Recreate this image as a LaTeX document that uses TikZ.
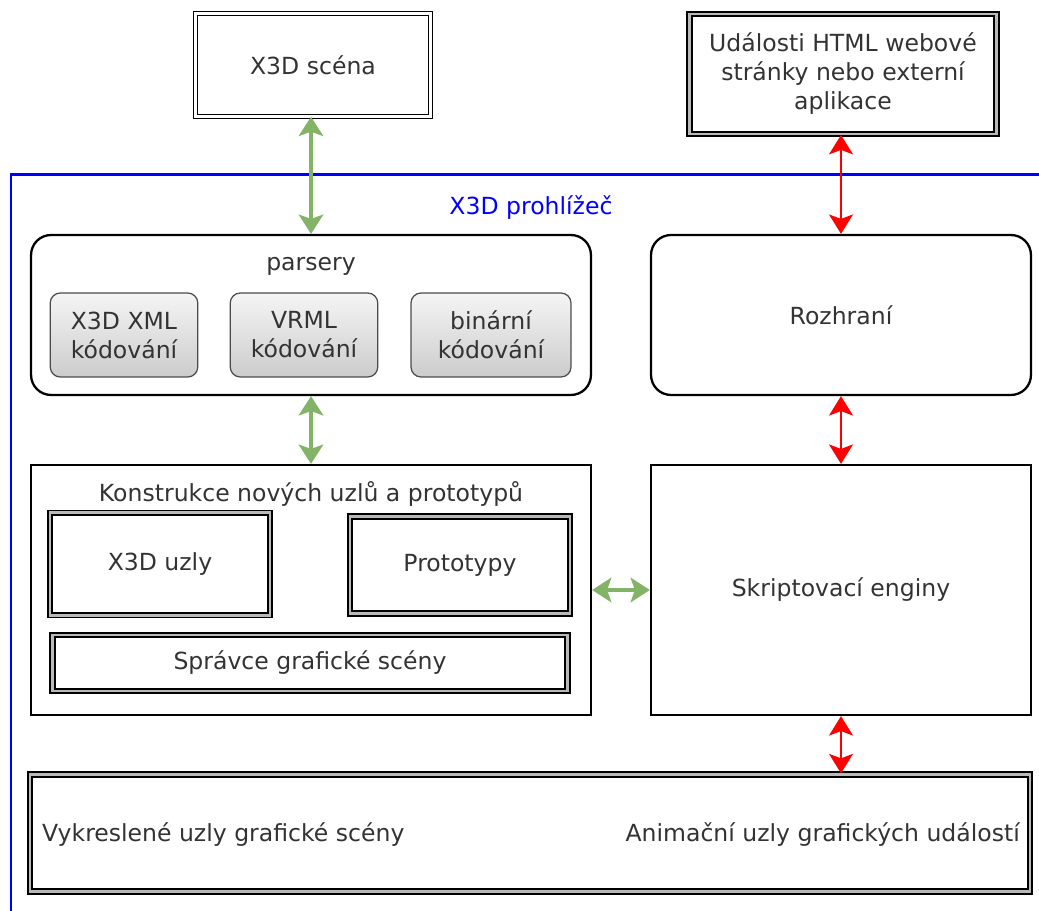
\documentclass[tikz,border=0pt]{standalone}
\usepackage{fontspec}
\setmainfont{DejaVu Sans}
\usetikzlibrary{arrows.meta}
\definecolor{zelena}{HTML}{82B366}
\definecolor{modra}{HTML}{0000FF}

\begin{document}
\begin{tikzpicture}[x=0.02cm, y=-0.02cm,
    every node/.style={font=\fontsize{13.4}{16.5}\selectfont, text=black!80, align=center},
    tenky/.style={draw=black, line width=0.6pt, double=white, double distance=1.5pt},
    tlusty/.style={draw=black, line width=1.1pt, double=gray!55, double distance=1.5pt},
    oblyk/.style={draw=black, line width=1.3pt, rounded corners=0.4cm, fill=white},
    kodovani/.style={draw=gray!60!black, line width=0.7pt, rounded corners=0.2cm, top color=gray!8, bottom color=gray!40},
    hranaty/.style={draw=black, line width=1.3pt},
    zsipka/.style={zelena, line width=1.8pt, {Stealth[length=11pt, width=14pt, inset=2.5pt]}-{Stealth[length=11pt, width=14pt, inset=2.5pt]}},
    csipka/.style={red, line width=1.6pt, {Stealth[length=11pt, width=13.5pt, inset=2.5pt]}-{Stealth[length=11pt, width=13.5pt, inset=2.5pt]}}]
    \useasboundingbox (0,0) rectangle (1039,911);

    % Prohlizec
    \draw[modra, line width=1.7pt] (11,911) -- (11,175) -- (1039,175);
    \node[text=modra] (prohlizec) at (531,208) {X3D prohlížeč};

    % Nodes
    \node[tenky, minimum width=4.7cm, minimum height=2.05cm] (scena) at (313,65) {X3D scéna};
    \node[tlusty, minimum width=6.15cm, minimum height=2.4cm] (udalosti) at (843,74) {Události HTML webové\\stránky nebo externí\\aplikace};

    \node[oblyk, minimum width=11.2cm, minimum height=3.2cm] (parsery) at (311,315) {};
    \node (parsery-text) at (311,266) {parsery};
    \node[kodovani, minimum width=2.95cm, minimum height=1.68cm] (xml) at (124,335) {X3D XML\\kódování};
    \node[kodovani, minimum width=2.95cm, minimum height=1.68cm] (vrml) at (304,335) {VRML\\kódování};
    \node[kodovani, minimum width=3.2cm, minimum height=1.68cm] (binarni) at (491,335) {binární\\kódování};

    \node[oblyk, minimum width=7.6cm, minimum height=3.2cm] (rozhrani) at (841,315) {Rozhraní};

    \node[hranaty, minimum width=11.2cm, minimum height=5cm] (konstrukce) at (311,590) {};
    \node (konstrukce-text) at (311,494) {Konstrukce nových uzlů a prototypů};
    \node[tlusty, minimum width=4.4cm, minimum height=2.05cm] (uzly) at (160,564) {X3D uzly};
    \node[tlusty, minimum width=4.4cm, minimum height=1.95cm] (prototypy) at (460,565) {Prototypy};
    \node[tlusty, minimum width=10.3cm, minimum height=1.12cm] (spravce) at (310,663) {Správce grafické scény};

    \node[hranaty, minimum width=7.6cm, minimum height=5cm] (skript) at (841,590) {Skriptovací enginy};

    \node[tlusty, minimum width=20cm, minimum height=2.35cm] (dolni) at (530,833) {};
    \node[anchor=west] (vykreslene) at (36,835) {Vykreslené uzly grafické scény};
    \node[anchor=east] (animacni) at (1026,835) {Animační uzly grafických událostí};

    % Lines
    \draw[zsipka] (scena.south -| parsery-text) -- (parsery.north -| parsery-text);
    \draw[zsipka] (parsery.south) -- (konstrukce.north);
    \draw[zsipka] (konstrukce.east) -- (skript.west);
    \draw[csipka] (udalosti.south -| rozhrani.north) -- (rozhrani.north);
    \draw[csipka] (rozhrani.south) -- (skript.north);
    \draw[csipka] (skript.south) -- (skript.south |- dolni.north);
\end{tikzpicture}
\end{document}
